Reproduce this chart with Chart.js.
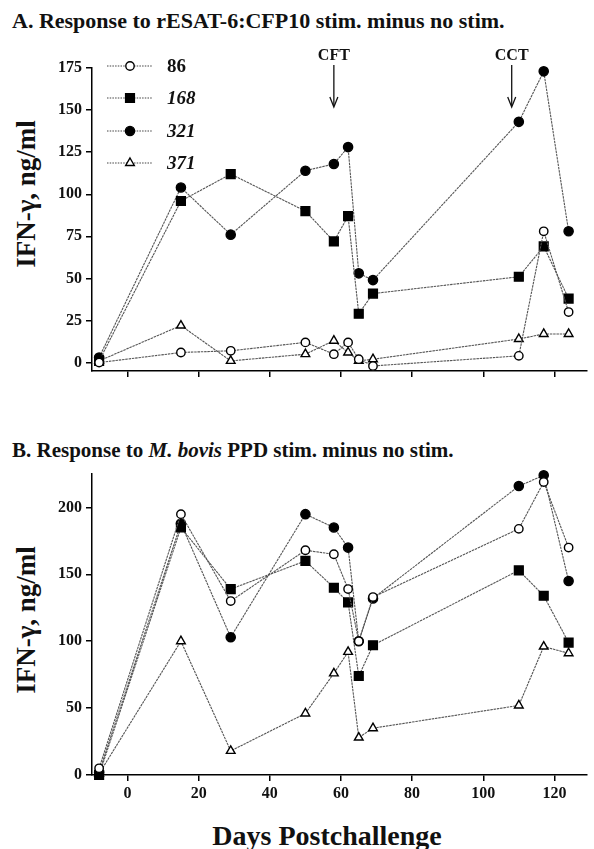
<!DOCTYPE html>
<html>
<head>
<meta charset="utf-8">
<script src="https://cdn.jsdelivr.net/npm/chart.js@4.4.1/dist/chart.umd.min.js"></script>
<style>
  body { margin: 0; background: #fff; width: 594px; height: 849px; position: relative; overflow: hidden;
         font-family: 'Liberation Serif', 'Times New Roman', serif; color: #111; }
  canvas { position: absolute; left: 0; }
  .t { position: absolute; font-weight: bold; white-space: nowrap; line-height: 1; }
  .ylab { position: absolute; font-weight: bold; white-space: nowrap; line-height: 1; font-size: 27px;
          transform: translate(-50%, -50%) rotate(-90deg); }
</style>
</head>
<body>
<div class="t" style="left:12px;top:10px;font-size:22px;">A. Response to rESAT-6:CFP10 stim. minus no stim.</div>
<div class="t" style="left:12px;top:440px;font-size:21px;">B. Response to <i>M. bovis</i> PPD stim. minus no stim.</div>
<div class="ylab" style="left:26px;top:194px;">IFN-γ, ng/ml</div>
<div class="ylab" style="left:26px;top:620px;">IFN-γ, ng/ml</div>
<div class="t" style="left:327px;top:822px;font-size:28px;transform:translateX(-50%);">Days Postchallenge</div>
<canvas id="chartA" width="594" height="400" style="top:0"></canvas>
<canvas id="chartB" width="594" height="449" style="top:400px"></canvas>
<script>
// days of sampling (x) and animal ids
const days = [-8, 15, 29, 50, 58, 62, 65, 69, 110, 117, 124];
const animals = ['86', '168', '321', '371'];

// A. rESAT-6:CFP10 minus no stim
const esat86  = [0, 6, 7, 12, 5, 12, 2, -2, 4, 78, 30];
const esat168 = [1, 96, 112, 90, 72, 87, 29, 41, 51, 69, 38];
const esat321 = [3, 104, 76, 114, 118, 128, 53, 49, 143, 173, 78];
const esat371 = [1, 22, 1, 5, 13, 6, 1, 2, 14, 17, 17];

// B. M. bovis PPD minus no stim
const ppd86  = [5, 195, 130, 168, 165, 139, 100, 133, 184, 219, 170];
const ppd168 = [0, 185, 139, 160, 140, 129, 74, 97, 153, 134, 99];
const ppd321 = [2, 188, 103, 195, 185, 170, 100, 132, 216, 224, 145];
const ppd371 = [1, 100, 18, 46, 76, 92, 28, 35, 52, 96, 91];

const xTicks = [0, 20, 40, 60, 80, 100, 120];
const yTicksA = [0, 25, 50, 75, 100, 125, 150, 175];
const yTicksB = [0, 50, 100, 150, 200];
const events = [{ day: 58, label: 'CFT' }, { day: 108, label: 'CCT' }];

const serif = "'Liberation Serif', 'Times New Roman', serif";
const markers = [
  { pointStyle: 'circle', radius: 4.2, fill: '#fff' },
  { pointStyle: 'rect', radius: 6.2, fill: '#000' },
  { pointStyle: 'circle', radius: 4.6, fill: '#000' },
  { pointStyle: 'triangle', radius: 5, fill: '#fff' }
];

function makeDatasets(series) {
  return series.map((vals, k) => ({
    label: animals[k],
    data: days.map((d, i) => ({ x: d, y: vals[i] })),
    borderColor: '#555',
    borderWidth: 1.1,
    borderDash: [2.5, 0.8],
    pointStyle: markers[k].pointStyle,
    pointRadius: markers[k].radius,
    pointBackgroundColor: markers[k].fill,
    pointBorderColor: '#000',
    pointBorderWidth: 1.4,
    tension: 0,
    clip: false
  }));
}

function makeScales(yMin, yMax, yTicks, xHeight, showX) {
  return {
    x: {
      type: 'linear', min: -10, max: 129,
      afterBuildTicks: s => { s.ticks = xTicks.map(v => ({ value: v })); },
      afterFit: s => { s.height = xHeight; },
      grid: { drawOnChartArea: false, color: '#000', lineWidth: 1.5, tickLength: 6 },
      border: { color: '#000', width: 1.5 },
      ticks: { display: showX, color: '#111', padding: 3, maxRotation: 0,
               font: { family: serif, size: 16, weight: 'bold' } }
    },
    y: {
      min: yMin, max: yMax,
      afterBuildTicks: s => { s.ticks = yTicks.map(v => ({ value: v })); },
      afterFit: s => { s.width = 92; },
      grid: { drawOnChartArea: false, color: '#000', lineWidth: 1.5, tickLength: 6 },
      border: { color: '#000', width: 1.5 },
      ticks: { color: '#111', padding: 4, font: { family: serif, size: 16, weight: 'bold' } }
    }
  };
}

// legend drawn inside panel A, top-left
const insideLegend = {
  id: 'insideLegend',
  afterDraw(chart) {
    const ctx = chart.ctx;
    const rows = [66, 98, 131, 163];
    ctx.save();
    chart.data.datasets.forEach((ds, k) => {
      const y = rows[k];
      ctx.strokeStyle = '#444';
      ctx.lineWidth = 1.1;
      ctx.setLineDash([1.5, 1.2]);
      ctx.beginPath(); ctx.moveTo(107, y); ctx.lineTo(152, y); ctx.stroke();
      ctx.setLineDash([]);
      ctx.fillStyle = ds.pointBackgroundColor;
      ctx.strokeStyle = '#000';
      ctx.lineWidth = 1.4;
      Chart.helpers.drawPoint(ctx, { pointStyle: ds.pointStyle, radius: ds.pointRadius, rotation: 0, borderWidth: 1.4 }, 130, y);
      ctx.fillStyle = '#111';
      ctx.font = (k === 0 ? '' : 'italic ') + 'bold 19px ' + serif;
      ctx.textAlign = 'left';
      ctx.textBaseline = 'middle';
      ctx.fillText(ds.label, 167, y + 1);
    });
    ctx.restore();
  }
};

// CFT / CCT arrows above panel A
const eventArrows = {
  id: 'eventArrows',
  afterDraw(chart) {
    const ctx = chart.ctx;
    const xs = chart.scales.x;
    ctx.save();
    events.forEach(ev => {
      const x = xs.getPixelForValue(ev.day);
      ctx.fillStyle = '#111';
      ctx.font = 'bold 16px ' + serif;
      ctx.textAlign = 'center';
      ctx.textBaseline = 'alphabetic';
      ctx.fillText(ev.label, x, 60);
      ctx.strokeStyle = '#111';
      ctx.lineWidth = 1.3;
      ctx.beginPath(); ctx.moveTo(x, 65); ctx.lineTo(x, 106); ctx.stroke();
      ctx.beginPath();
      ctx.moveTo(x - 4, 97); ctx.lineTo(x, 107); ctx.lineTo(x + 4, 97);
      ctx.stroke();
    });
    ctx.restore();
  }
};

const common = {
  responsive: false,
  animation: false,
  plugins: { legend: { display: false }, tooltip: { enabled: false } }
};

new Chart(document.getElementById('chartA'), {
  type: 'line',
  data: { datasets: makeDatasets([esat86, esat168, esat321, esat371]) },
  options: Object.assign({}, common, {
    layout: { padding: { top: 68, right: 1, left: 0, bottom: 0 } },
    scales: makeScales(-5, 175, yTicksA, 29, false)
  }),
  plugins: [insideLegend, eventArrows]
});

new Chart(document.getElementById('chartB'), {
  type: 'line',
  data: { datasets: makeDatasets([ppd86, ppd168, ppd321, ppd371]) },
  options: Object.assign({}, common, {
    layout: { padding: { top: 74, right: 1, left: 0, bottom: 0 } },
    scales: makeScales(0, 225, yTicksB, 74, true)
  })
});
</script>
</body>
</html>
